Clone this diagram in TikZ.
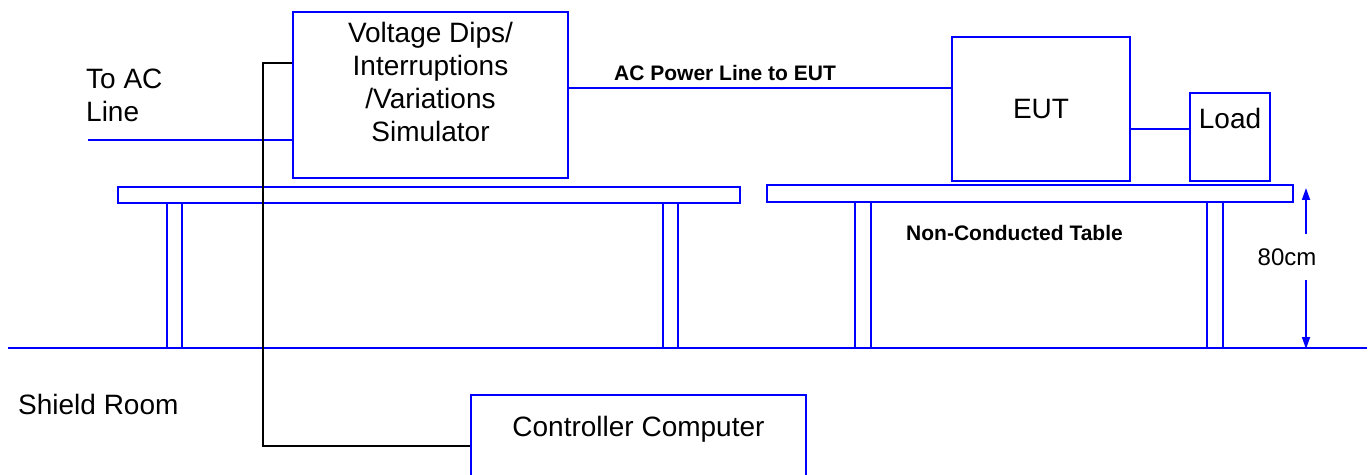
\documentclass[tikz,border=0pt]{standalone}
\usepackage{fontspec}
\setmainfont{Liberation Sans}
\usetikzlibrary{arrows.meta,positioning}

\begin{document}
\begin{tikzpicture}[x=1bp,y=-1bp,
    blueline/.style={draw=blue,line width=2.9bp},
    box/.style={blueline,rectangle,inner sep=0pt},
    ctrlline/.style={draw=black,line width=2.4bp},
    lbl/.style={font=\fontsize{28bp}{33bp}\selectfont,inner sep=0pt},
    smalllbl/.style={font=\fontsize{21bp}{25bp}\selectfont\bfseries,inner sep=0pt},
    dimarrow/.style={draw=blue,line width=1.7bp,-{Triangle[length=12bp,width=8bp]}}]
    \useasboundingbox (0,0) rectangle (1372,475);
    \clip (0,0) rectangle (1372,475);
    % tables and floor
    \draw[blueline] (118,187) rectangle (740,203);
    \draw[blueline] (767,185) rectangle (1293,202);
    \foreach \x in {167,663}
        \draw[blueline] (\x,203) rectangle ++(15,145);
    \foreach \x in {855,1207}
        \draw[blueline] (\x,202) rectangle ++(16,146);
    \draw[blueline] (8,348) -- (1367,348);
    % boxes
    \node[box,minimum width=275bp,minimum height=166bp] (sim) at (430.5,95) {};
    \node[lbl,align=center] (simtext) at ([yshift=13bp]sim.center) {Voltage Dips/\\Interruptions\\/Variations\\Simulator};
    \node[box,lbl,minimum width=178bp,minimum height=144bp] (eut) at (1041,109) {EUT};
    \node[box,minimum width=80bp,minimum height=88bp] (load) at (1230,137) {};
    \node[lbl] (loadtext) at ([yshift=19bp]load.center) {Load};
    \node[box,minimum width=335bp,minimum height=102bp] (comp) at (638.5,446) {};
    \node[lbl] (comptext) at ([yshift=17bp]comp.center) {Controller Computer};
    % labels
    \node[lbl,align=left,anchor=north west] (actext) at (86,69) {To AC\\Line};
    \node[smalllbl,anchor=base west] (pwrtext) at (614,81) {AC Power Line to EUT};
    \node[smalllbl,anchor=base west] (tbltext) at (906,241) {Non-Conducted Table};
    \node[lbl,anchor=base west] (roomtext) at (18,414) {Shield Room};
    % connectors
    \coordinate (acin) at (88,140);
    \draw[blueline] (acin) -- (acin -| sim.west);
    \coordinate (pwr) at (0,88);
    \draw[blueline] (sim.east |- pwr) -- (eut.west |- pwr);
    \coordinate (eutload) at (0,129);
    \draw[blueline] (eut.east |- eutload) -- (load.west |- eutload);
    \coordinate (bus) at (263,63);
    \draw[ctrlline] (sim.west |- bus) -- (bus) |- (comp.west);
    % table height
    \node[font=\fontsize{24bp}{28bp}\selectfont,inner sep=14bp] (dim) at (1287,257) {80cm};
    \coordinate (dtop) at (1306,188);
    \coordinate (dbot) at (1306,349);
    \draw[dimarrow] (dim.north -| dtop) -- (dtop);
    \draw[dimarrow] (dim.south -| dtop) -- (dbot);
\end{tikzpicture}
\end{document}
